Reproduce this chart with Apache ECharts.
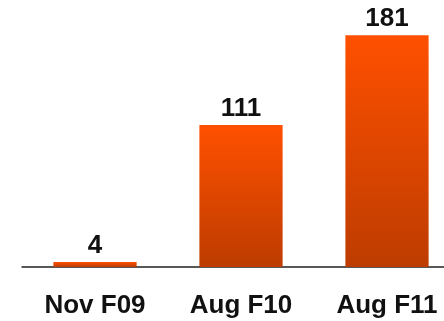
<!DOCTYPE html>
<html>
<head>
<meta charset="utf-8">
<script src="https://cdn.jsdelivr.net/npm/echarts@6/dist/echarts.min.js"></script>
<style>
  html, body { margin: 0; padding: 0; background: #ffffff; }
  #chart { width: 444px; height: 321px; }
</style>
</head>
<body>
<div id="chart"></div>
<script>
// Periods shown along the x axis
const categories = ['Nov F09', 'Aug F10', 'Aug F11'];
// Count for each period
const counts = [4, 111, 181];

const chart = echarts.init(document.getElementById('chart'), null, { renderer: 'canvas' });

const fontFamily = '"Liberation Sans", Arial, sans-serif';

chart.setOption({
  animation: false,
  backgroundColor: '#ffffff',
  grid: {
    left: 22, width: 438, top: 11, bottom: 54,
    containLabel: false,
    outerBoundsMode: 'none'
  },
  xAxis: {
    type: 'category',
    data: categories,
    axisLine: { show: true, lineStyle: { color: '#222222', width: 1.5 } },
    axisTick: { show: false },
    axisLabel: {
      color: '#111111',
      fontFamily: fontFamily,
      fontWeight: 'bold',
      fontSize: 26,
      margin: 26
    }
  },
  yAxis: {
    type: 'value',
    min: 0,
    max: 200,
    show: false,
    splitLine: { show: false }
  },
  series: [{
    type: 'bar',
    data: counts,
    barWidth: '57%',
    itemStyle: {
      color: new echarts.graphic.LinearGradient(0, 0, 0, 1, [
        { offset: 0, color: '#ff5000' },
        { offset: 1, color: '#bd3c00' }
      ])
    },
    label: {
      show: true,
      position: 'top',
      distance: 3,
      color: '#111111',
      fontFamily: fontFamily,
      fontWeight: 'bold',
      fontSize: 26
    }
  }]
});
</script>
</body>
</html>
